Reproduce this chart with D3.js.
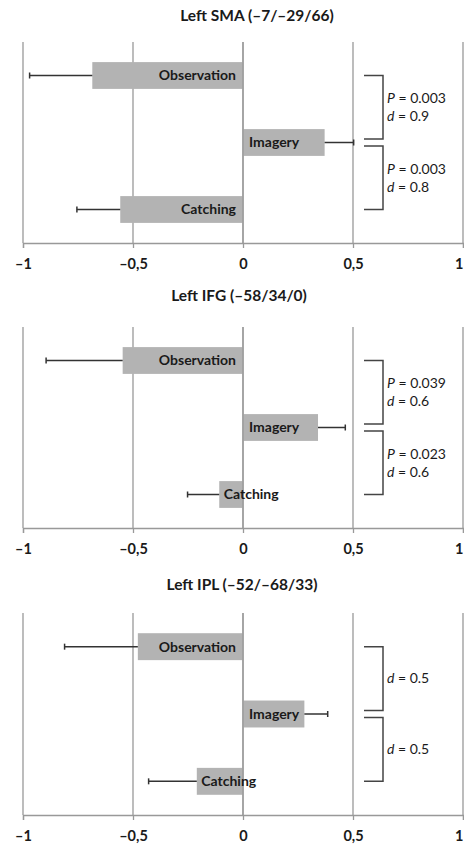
<!DOCTYPE html>
<html>
<head>
<meta charset="utf-8">
<script src="https://cdn.jsdelivr.net/npm/d3@7"></script>
<style>
  body { margin: 0; background: #fff; }
  svg { display: block; }
  text { font-family: Lato, "Open Sans", sans-serif; fill: #1a1a1a; }
</style>
</head>
<body>
<script>
// conditions, top to bottom in every panel
var categories = ["Observation", "Imagery", "Catching"];

var panelTitles = ["Left SMA (\u20137/\u201329/66)", "Left IFG (\u201358/34/0)", "Left IPL (\u201352/\u201368/33)"];

// bar values and error-bar lengths per region
var smaValues = [-0.685, 0.371, -0.558];
var smaErrors = [0.285, 0.132, 0.197];
var ifgValues = [-0.547, 0.341, -0.108];
var ifgErrors = [0.348, 0.124, 0.144];
var iplValues = [-0.478, 0.279, -0.210];
var iplErrors = [0.333, 0.106, 0.219];

// comparison labels for the two brackets (Obs vs Img, Img vs Catch)
var smaStats = [["P = 0.003", "d = 0.9"], ["P = 0.003", "d = 0.8"]];
var ifgStats = [["P = 0.039", "d = 0.6"], ["P = 0.023", "d = 0.6"]];
var iplStats = [["d = 0.5"], ["d = 0.5"]];

var tickValues = [-1, -0.5, 0, 0.5, 1];
var tickLabels = ["\u20131", "\u20130,5", "0", "0,5", "1"];

var panels = [
  { title: panelTitles[0], values: smaValues, errors: smaErrors, stats: smaStats },
  { title: panelTitles[1], values: ifgValues, errors: ifgErrors, stats: ifgStats },
  { title: panelTitles[2], values: iplValues, errors: iplErrors, stats: iplStats }
];

// vertical layout of each panel
var layout = [
  { titleY: 16, top: 42, bottom: 243, titleShift: 14 },
  { titleY: 296, top: 327, bottom: 528, titleShift: -4 },
  { titleY: 585, top: 613, bottom: 815, titleShift: -1 }
];

var width = 464, height = 844;

var svg = d3.select("body").append("svg")
  .attr("width", width)
  .attr("height", height);

var x = d3.scaleLinear().domain([-1, 1]).range([23, 463]);

function drawPanel(p, lay) {
  var g = svg.append("g");

  var y = d3.scaleBand()
    .domain(categories)
    .range([lay.top, lay.bottom])
    .paddingInner(0.6)
    .paddingOuter(0.3);

  // title
  g.append("text")
    .attr("x", x(0) + lay.titleShift)
    .attr("y", lay.titleY)
    .attr("dy", "0.35em")
    .attr("text-anchor", "middle")
    .attr("font-size", 15.5)
    .attr("font-weight", "bold")
    .text(p.title);

  // gridlines
  g.selectAll(".grid").data(tickValues).enter().append("line")
    .attr("x1", function(d) { return x(d); })
    .attr("x2", function(d) { return x(d); })
    .attr("y1", lay.top)
    .attr("y2", lay.bottom)
    .attr("stroke", "#999")
    .attr("stroke-width", 1.3);

  // bottom axis
  var axis = d3.axisBottom(x)
    .tickValues(tickValues)
    .tickSize(5)
    .tickFormat(function(d, i) { return tickLabels[i]; });

  var ax = g.append("g")
    .attr("transform", "translate(0," + lay.bottom + ")")
    .call(axis);
  ax.select(".domain").attr("stroke", "#999").attr("stroke-width", 1.3);
  ax.selectAll(".tick line").attr("stroke", "#999").attr("stroke-width", 1.3);
  ax.selectAll(".tick text")
    .attr("y", 21)
    .attr("dy", "0.35em")
    .attr("font-size", 14.5)
    .attr("font-weight", "bold")
    .attr("font-family", "Lato, sans-serif")
    .attr("fill", "#1a1a1a");
  // last label sits against the right edge; keep it inside the page
  ax.selectAll(".tick text").filter(function(d) { return d === 1; })
    .attr("text-anchor", "end")
    .attr("x", 0);

  var rows = categories.map(function(c, i) {
    return { name: c, value: p.values[i], err: p.errors[i] };
  });

  // bars
  g.selectAll(".bar").data(rows).enter().append("rect")
    .attr("x", function(d) { return x(Math.min(0, d.value)); })
    .attr("y", function(d) { return y(d.name); })
    .attr("width", function(d) { return Math.abs(x(d.value) - x(0)); })
    .attr("height", y.bandwidth())
    .attr("fill", "#b3b3b3");

  // zero line on top of bars
  g.append("line")
    .attr("x1", x(0)).attr("x2", x(0))
    .attr("y1", lay.top).attr("y2", lay.bottom)
    .attr("stroke", "#999").attr("stroke-width", 1.3);

  // error bars
  rows.forEach(function(d) {
    var cy = y(d.name) + y.bandwidth() / 2;
    var end = d.value + (d.value < 0 ? -d.err : d.err);
    g.append("line")
      .attr("x1", x(d.value)).attr("x2", x(end))
      .attr("y1", cy).attr("y2", cy)
      .attr("stroke", "#333").attr("stroke-width", 1.5);
    g.append("line")
      .attr("x1", x(end)).attr("x2", x(end))
      .attr("y1", cy - 3).attr("y2", cy + 3)
      .attr("stroke", "#333").attr("stroke-width", 1.5);
  });

  // labels
  rows.forEach(function(d) {
    var cy = y(d.name) + y.bandwidth() / 2;
    var t = g.append("text")
      .attr("y", cy)
      .attr("dy", "0.35em")
      .attr("font-size", 14)
      .attr("font-weight", "bold")
      .text(d.name);
    var w = t.node().getComputedTextLength();
    var barW = Math.abs(x(d.value) - x(0));
    if (d.value >= 0) {
      t.attr("x", x(0) + 6);
    } else if (w + 12 < barW) {
      t.attr("x", x(0) - 7).attr("text-anchor", "end");
    } else {
      t.attr("x", x(d.value) + 4.5);
    }
  });

  // brackets with stats
  var c = categories.map(function(n) { return y(n) + y.bandwidth() / 2; });
  var spans = [[c[0], c[1] - 3.5], [c[1] + 3.5, c[2]]];
  var bx0 = 364, bx1 = 383;
  spans.forEach(function(s, i) {
    g.append("path")
      .attr("d", "M" + bx0 + "," + s[0] + "H" + bx1 + "V" + s[1] + "H" + bx0)
      .attr("fill", "none")
      .attr("stroke", "#444")
      .attr("stroke-width", 1.5);
    var mid = (s[0] + s[1]) / 2;
    var lines = p.stats[i];
    var start = mid - (lines.length - 1) * 9;
    lines.forEach(function(line, j) {
      var parts = line.split(" ");
      var t = g.append("text")
        .attr("x", 387)
        .attr("y", start + j * 18)
        .attr("dy", "0.35em")
        .attr("font-size", 14);
      t.append("tspan").attr("font-style", "italic").text(parts[0]);
      t.append("tspan").text(" " + parts.slice(1).join(" "));
    });
  });
}

document.addEventListener("DOMContentLoaded", function() {
  panels.forEach(function(p, i) { drawPanel(p, layout[i]); });
});
</script>
</body>
</html>
